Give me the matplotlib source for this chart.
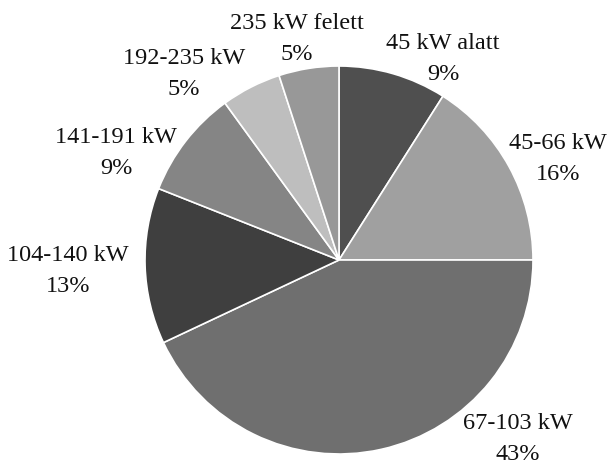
import matplotlib
matplotlib.use("Agg")
import matplotlib.pyplot as plt
import numpy as np

# Teljesítmény-kategóriák és részesedésük (%)
categories = ["45 kW alatt", "45-66 kW", "67-103 kW", "104-140 kW",
              "141-191 kW", "192-235 kW", "235 kW felett"]
shares = [9, 16, 43, 13, 9, 5, 5]
colors = ["#4f4f4f", "#a0a0a0", "#6f6f6f", "#3f3f3f",
          "#858585", "#bebebe", "#989898"]

# Címkék helye (a kör sugarához viszonyítva)
label_pos = [(0.536, 1.036), (1.129, 0.521), (0.923, -0.923), (-1.397, -0.057),
             (-1.149, 0.552), (-0.799, 0.959), (-0.216, 1.139)]

W, H, DPI = 609, 462, 100
cx, cy, r = 339, 260, 194

fig = plt.figure(figsize=(W / DPI, H / DPI), dpi=DPI)
ax = fig.add_axes([0, 0, 1, 1])
ax.pie(shares, colors=colors, startangle=90, counterclock=False,
       radius=1.0, wedgeprops=dict(edgecolor="white", linewidth=1.2))
ax.set_xlim(-cx / r, (W - cx) / r)
ax.set_ylim((cy - H) / r, cy / r)
ax.set_aspect("equal")
ax.axis("off")

for name, val, (x, y) in zip(categories, shares, label_pos):
    ax.text(x, y, f"{name}\n{val}%", ha="center", va="center",
            fontsize=17.5, family="Liberation Serif", color="#111111",
            linespacing=1.6)

fig.savefig("out.png", dpi=DPI, facecolor="white")
